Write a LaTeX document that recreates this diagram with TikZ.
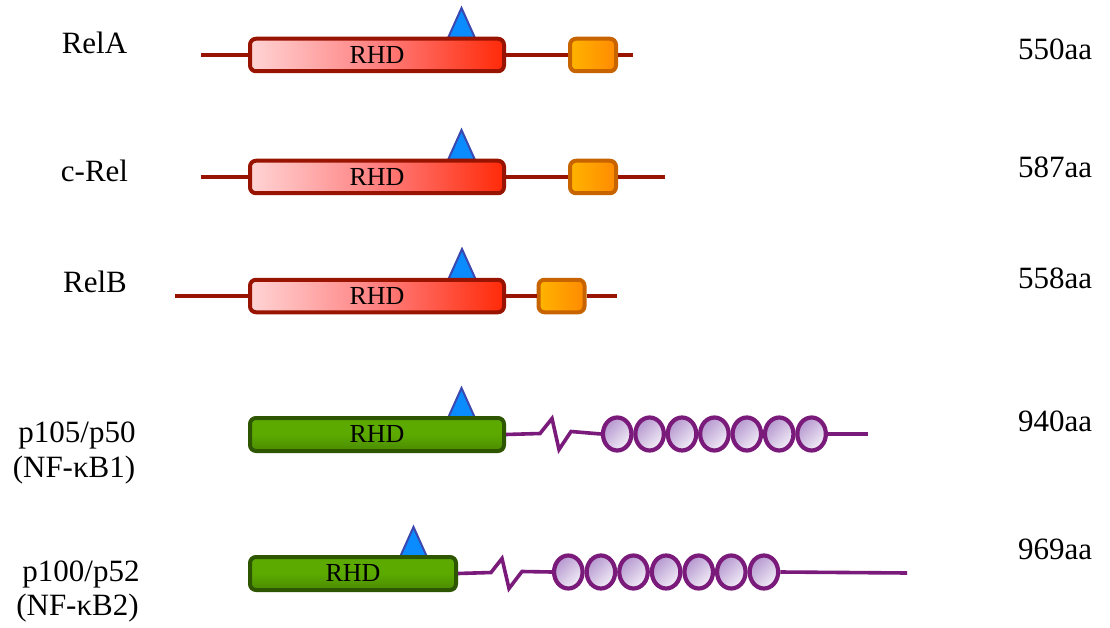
\documentclass[tikz,border=0pt]{standalone}
\usepackage{fontspec}
\setmainfont{Liberation Serif}
\usetikzlibrary{shapes.geometric}

\definecolor{rhdlight}{HTML}{FFD4D4}
\definecolor{rhdmid}{HTML}{FF8080}
\definecolor{rhddark}{HTML}{FF2A08}
\definecolor{rhdedge}{HTML}{981400}
\definecolor{orgA}{HTML}{FFB400}
\definecolor{orgB}{HTML}{FF8A00}
\definecolor{orgedge}{HTML}{C86400}
\definecolor{grnA}{HTML}{5CAA00}
\definecolor{grnB}{HTML}{4A8A00}
\definecolor{grnedge}{HTML}{2E5600}
\definecolor{sitefill}{HTML}{0A8CFF}
\definecolor{siteedge}{HTML}{3A48B0}
\definecolor{beadA}{HTML}{B497CF}
\definecolor{beadB}{HTML}{F4EFF8}
\definecolor{plum}{HTML}{7A1A7A}

\tikzset{
  label text/.style={font=\fontsize{31}{36}\selectfont, anchor=base, inner sep=0pt},
  rline/.style={draw=rhdedge, line width=3.6pt},
  pline/.style={draw=plum, line width=3.6pt, line join=miter},
  rhdbox/.style={draw=rhdedge, line width=4pt, rounded corners=6pt,
    left color=rhdlight, right color=rhddark, middle color=rhdmid,
    minimum height=32.5pt, inner sep=0pt, font=\fontsize{26}{30}\selectfont},
  grnbox/.style={draw=grnedge, line width=4pt, rounded corners=6pt,
    top color=grnA, bottom color=grnB, middle color=grnA, minimum height=33pt,
    inner sep=0pt, font=\fontsize{26}{30}\selectfont},
  tadbox/.style={draw=orgedge, line width=4pt, rounded corners=6pt,
    left color=orgA, right color=orgB, minimum width=46pt, minimum height=32.5pt,
    inner sep=0pt},
  site/.style={draw=siteedge, line width=2pt, fill=sitefill, line join=miter},
  bead/.style={ellipse, draw=plum, line width=4.2pt, inner sep=0pt,
    minimum width=28.5pt, minimum height=33pt,
    top color=beadA, bottom color=beadB, shading angle=45},
}

\begin{document}
\begin{tikzpicture}[x=1pt, y=-1pt]
\useasboundingbox (0,0) rectangle (1110,628);
\fill[white] (0,0) rectangle (1110,628);

% ---------- RelA ----------
\draw[site] (461.5,8) -- (475,38) -- (448,38) -- cycle;
\coordinate (a1) at (201,55);
\coordinate (b1) at (633,55);
\node[rhdbox, minimum width=254pt] (r1) at (377,55) {RHD};
\node[tadbox] (o1) at (593,55) {};
\draw[rline] (a1) -- (r1.west);
\draw[rline] (r1.east) -- (o1.west);
\draw[rline] (o1.east) -- (b1);

% ---------- c-Rel ----------
\draw[site] (461.5,130) -- (475,160) -- (448,160) -- cycle;
\coordinate (a2) at (201,177);
\coordinate (b2) at (665,177);
\node[rhdbox, minimum width=254pt] (r2) at (377,177) {RHD};
\node[tadbox] (o2) at (593,177) {};
\draw[rline] (a2) -- (r2.west);
\draw[rline] (r2.east) -- (o2.west);
\draw[rline] (o2.east) -- (b2);

% ---------- RelB ----------
\draw[site] (462,249) -- (475.5,279) -- (448.5,279) -- cycle;
\coordinate (a3) at (175,296);
\coordinate (b3) at (617,296);
\node[rhdbox, minimum width=254pt] (r3) at (377,296) {RHD};
\node[tadbox] (o3) at (561.5,296) {};
\draw[rline] (a3) -- (r3.west);
\draw[rline] (r3.east) -- (o3.west);
\draw[rline] (o3.east) -- (b3);

% ---------- p105/p50 ----------
\draw[site] (461.5,388) -- (475,418) -- (448,418) -- cycle;
\node[grnbox, minimum width=254pt] (g4) at (377,434.5) {RHD};
\foreach \i in {1,...,7}
  \node[bead] (c4-\i) at ({617.2+32.4*(\i-1)},434) {};
\coordinate (e4) at (868,434);
\draw[pline] (g4.east) -- ++(34,-1) -- ++(12,-15) -- ++(7,31) -- ++(12,-18)
  -- (c4-1.west);
\draw[pline] (c4-7.east) -- (e4);

% ---------- p100/p52 ----------
\draw[site] (413.5,527) -- (427,557) -- (400,557) -- cycle;
\node[grnbox, minimum width=206pt] (g5) at (353,573.5) {RHD};
\foreach \i in {1,...,7}
  \node[bead] (c5-\i) at ({568.3+32.6*(\i-1)},572) {};
\coordinate (e5) at (907,573);
\draw[pline] (g5.east) -- ++(33,-1) -- ++(11,-14) -- ++(7,30) -- ++(13,-17)
  -- (c5-1.west);
\draw[pline] (c5-7.east) -- (e5);

% ---------- names ----------
\node[label text] (n1) at (94.5,54) {RelA};
\node[label text] (n2) at (94.5,182) {c-Rel};
\node[label text] (n3) at (95,292) {RelB};
\node[label text] (n4) at (77,442) {p105/p50};
\node[label text] (n4b) at (74,477) {(NF-κB1)};
\node[label text] (n5) at (81,581) {p100/p52};
\node[label text] (n5b) at (77.5,615) {(NF-κB2)};

% ---------- lengths ----------
\node[label text] (l1) at (1055,60) {550aa};
\node[label text] (l2) at (1055,178) {587aa};
\node[label text] (l3) at (1055,288) {558aa};
\node[label text] (l4) at (1055,431) {940aa};
\node[label text] (l5) at (1055,559) {969aa};
\end{tikzpicture}
\end{document}
